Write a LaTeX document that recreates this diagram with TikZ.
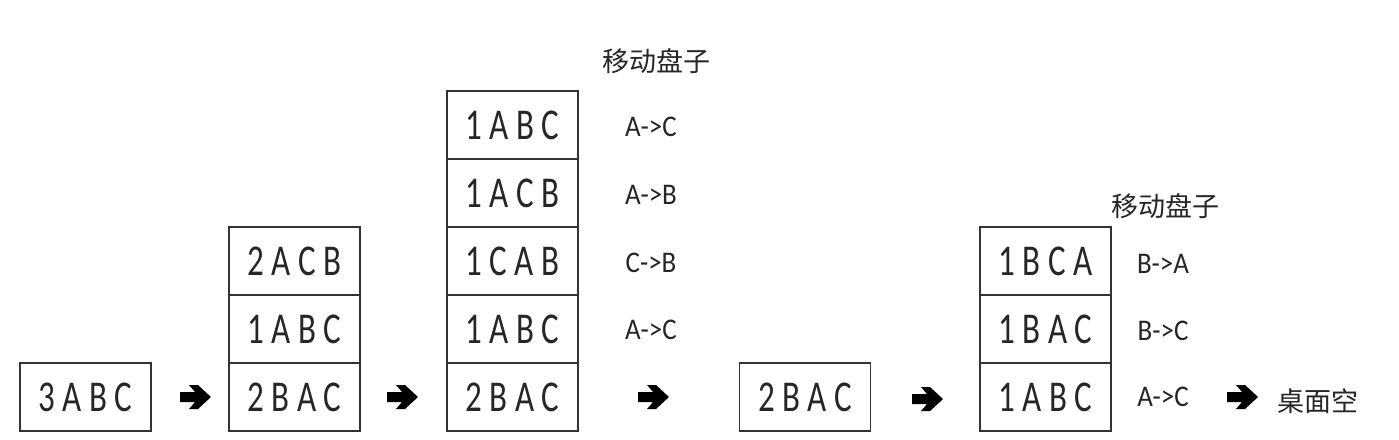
\documentclass[tikz,border=0pt]{standalone}
\usepackage{fontspec}
\setmainfont{Carlito}
\newfontfamily\boxfont[FakeStretch=0.75]{Carlito}
\newfontfamily\lblfont[FakeStretch=0.9]{Carlito}
\newfontfamily\cjk{Noto Sans CJK SC}
\begin{document}
\begin{tikzpicture}[x=1pt,y=-1pt,
  disk/.style={draw=black!80, line width=1.3pt, minimum width=131pt, minimum height=68pt, inner sep=0pt,
     font=\boxfont\fontsize{44}{44}\selectfont, text=black!85},
  movelbl/.style={inner sep=0pt, font=\lblfont\fontsize{30}{30}\selectfont, text=black!85},
  cjklbl/.style={inner sep=0pt, font=\cjk\fontsize{27}{27}\selectfont, text=black!85},
  fatarrow/.style={fill=black, draw=none}]
\useasboundingbox (0,0) rectangle (1399,439);
\fill[white] (0,0) rectangle (1399,439);
% column 1
\node[disk] (a1) at (85.5,397) {3 A B C};
% column 2
\node[disk] (b1) at (294.5,397) {2 B A C};
\node[disk] (b2) at (294.5,329) {1 A B C};
\node[disk] (b3) at (294.5,261) {2 A C B};
% column 3
\node[disk] (c1) at (512.5,397) {2 B A C};
\node[disk] (c2) at (512.5,329) {1 A B C};
\node[disk] (c3) at (512.5,261) {1 C A B};
\node[disk] (c4) at (512.5,193) {1 A C B};
\node[disk] (c5) at (512.5,125) {1 A B C};
\node[cjklbl] (t1) at (656,61) {移动盘子};
\node[movelbl] (m5) at (651,127) {A->C};
\node[movelbl] (m4) at (651,195) {A->B};
\node[movelbl] (m3) at (651,263) {C->B};
\node[movelbl] (m2) at (651,330) {A->C};
% column 4
\node[disk] (d1) at (805,397) {2 B A C};
% column 5
\node[disk] (e1) at (1045.5,397) {1 A B C};
\node[disk] (e2) at (1045.5,329) {1 B A C};
\node[disk] (e3) at (1045.5,261) {1 B C A};
\node[cjklbl] (t2) at (1165,206) {移动盘子};
\node[movelbl] (n3) at (1163,264) {B->A};
\node[movelbl] (n2) at (1163,331) {B->C};
\node[movelbl] (n1) at (1163,397) {A->C};
\node[cjklbl] (t3) at (1318,401) {桌面空};
% arrows
\coordinate (p1) at (195,397);
\coordinate (p2) at (402,397);
\coordinate (p3) at (653,397);
\coordinate (p4) at (927,399);
\coordinate (p5) at (1242,397);
\foreach \p in {p1,p2,p3,p4,p5}{
  \fill[fatarrow] ([shift={(-15,-5)}]\p) -- ([shift={(0,-5)}]\p) -- ([shift={(-6,-12)}]\p)
     -- ([shift={(3,-12)}]\p) -- ([shift={(16,0)}]\p) -- ([shift={(3,12)}]\p) -- ([shift={(-6,12)}]\p)
     -- ([shift={(0,5)}]\p) -- ([shift={(-15,5)}]\p) -- cycle;
}
\end{tikzpicture}
\end{document}
